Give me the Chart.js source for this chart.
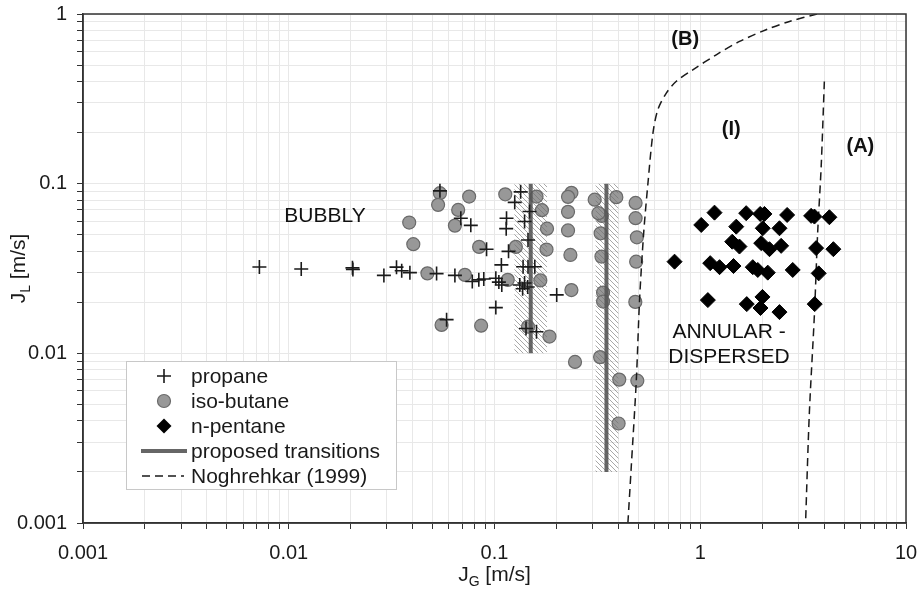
<!DOCTYPE html>
<html>
<head>
<meta charset="utf-8">
<script src="https://cdn.jsdelivr.net/npm/chart.js@4.4.1/dist/chart.umd.min.js"></script>
<style>
  html, body { margin: 0; padding: 0; background: #fff; }
  #wrap { width: 919px; height: 590px; }
</style>
</head>
<body>
<div id="wrap"><canvas id="chart" width="919" height="590"></canvas></div>
<script>
// ---- values (J_G, J_L in m/s) ----
const propaneJG = [0.0072, 0.0115, 0.0204, 0.0205, 0.029, 0.0334, 0.0354, 0.0388, 0.0523, 0.0642,
  0.0543, 0.0585, 0.0686, 0.0767, 0.078, 0.0839, 0.0887, 0.0915, 0.1015, 0.105,
  0.108, 0.1085, 0.1015, 0.1144, 0.114, 0.117, 0.1254, 0.134, 0.148, 0.140,
  0.1455, 0.1377, 0.1455, 0.157, 0.1327, 0.140, 0.145, 0.137, 0.1423, 0.160, 0.2006];
const propaneJL = [0.0323, 0.0314, 0.0319, 0.0312, 0.0288, 0.0322, 0.0307, 0.0299, 0.0295, 0.0288,
  0.0907, 0.0158, 0.0626, 0.0568, 0.0265, 0.0271, 0.0274, 0.0411, 0.0277, 0.0263,
  0.0332, 0.0253, 0.0186, 0.0626, 0.0543, 0.0399, 0.0776, 0.0895, 0.0685, 0.0599,
  0.0466, 0.0324, 0.0324, 0.0324, 0.0253, 0.026, 0.0246, 0.024, 0.014, 0.0134, 0.0221];

const isoButaneJG = [0.0385, 0.0403, 0.0543, 0.0532, 0.0666, 0.0642, 0.0753, 0.0472, 0.0718, 0.0842,
  0.0553, 0.0861, 0.1128, 0.116, 0.127, 0.160, 0.170, 0.180, 0.179, 0.167,
  0.1455, 0.185, 0.2365, 0.2277, 0.2277, 0.2277, 0.2338, 0.2365, 0.2462, 0.3068,
  0.391, 0.332, 0.320, 0.328, 0.331, 0.337, 0.337, 0.326, 0.404, 0.401,
  0.485, 0.485, 0.492, 0.488, 0.4835, 0.4945];
const isoButaneJL = [0.059, 0.044, 0.0879, 0.075, 0.070, 0.0566, 0.0839, 0.0296, 0.029, 0.0424,
  0.0147, 0.01455, 0.0865, 0.0271, 0.0424, 0.0839, 0.0698, 0.0543, 0.0409, 0.0269,
  0.01435, 0.01256, 0.0883, 0.0836, 0.0682, 0.053, 0.038, 0.0236, 0.0089, 0.0805,
  0.0833, 0.0646, 0.067, 0.051, 0.0372, 0.0228, 0.0202, 0.0095, 0.0070, 0.00386,
  0.077, 0.0626, 0.0483, 0.0347, 0.0201, 0.0069];

const pentaneJG = [1.173, 1.672, 1.956, 2.051, 2.644, 3.458, 3.589, 4.243, 1.011, 1.496,
  2.013, 2.427, 1.43, 1.551, 1.978, 2.17, 2.473, 3.657, 4.437, 0.750,
  1.118, 1.241, 1.451, 1.80, 1.904, 2.129, 2.815, 3.764, 1.089, 1.683,
  2.006, 1.962, 2.427, 3.6];
const pentaneJL = [0.0675, 0.067, 0.0663, 0.0663, 0.0654, 0.0646, 0.064, 0.0634, 0.0571, 0.0558,
  0.0546, 0.0546, 0.0455, 0.0426, 0.0446, 0.0411, 0.043, 0.0417, 0.0411, 0.0347,
  0.034, 0.0322, 0.0327, 0.0322, 0.031, 0.0299, 0.031, 0.0296, 0.0206, 0.0195,
  0.0215, 0.0185, 0.0175, 0.0195];

// proposed transitions (vertical lines) and their uncertainty bands
const transJG = [0.15, 0.35];
const transJLlow = [0.01, 0.002];
const transJLhigh = [0.1, 0.1];
const bandJGlow = [0.125, 0.31];
const bandJGhigh = [0.18, 0.40];

// Noghrehkar (1999) boundaries
const nogBJG = [0.445, 0.462, 0.489, 0.507, 0.531, 0.557, 0.589, 0.622, 0.684, 0.763, 0.92, 1.196, 1.552, 2.09, 2.714, 3.7];
const nogBJL = [0.001, 0.00214, 0.00696, 0.0206, 0.0513, 0.1007, 0.1986, 0.2725, 0.342, 0.400, 0.469, 0.575, 0.689, 0.808, 0.904, 1.0];
const nogAJG = [4.01, 3.87, 3.72, 3.59, 3.39, 3.25];
const nogAJL = [0.400, 0.126, 0.0511, 0.0172, 0.00443, 0.001];

// axis ticks
const xTickValues = [0.001, 0.002, 0.003, 0.004, 0.005, 0.006, 0.007, 0.008, 0.009,
  0.01, 0.02, 0.03, 0.04, 0.05, 0.06, 0.07, 0.08, 0.09,
  0.1, 0.2, 0.3, 0.4, 0.5, 0.6, 0.7, 0.8, 0.9,
  1, 2, 3, 4, 5, 6, 7, 8, 9, 10];
const xMajor = [0.001, 0.01, 0.1, 1, 10];
const xTickLabels = ['0.001', '0.01', '0.1', '1', '10'];
const yTickValues = [0.001, 0.002, 0.003, 0.004, 0.005, 0.006, 0.007, 0.008, 0.009,
  0.01, 0.02, 0.03, 0.04, 0.05, 0.06, 0.07, 0.08, 0.09,
  0.1, 0.2, 0.3, 0.4, 0.5, 0.6, 0.7, 0.8, 0.9, 1];
const yMajor = [0.001, 0.01, 0.1, 1];
const yTickLabels = ['0.001', '0.01', '0.1', '1'];

const seriesLabels = ['propane', 'iso-butane', 'n-pentane', 'proposed transitions', 'Noghrehkar (1999)'];

const FONT = '"Liberation Sans", Arial, sans-serif';

function pairs(xs, ys) {
    return xs.map((x, i) => ({ x: x, y: ys[i] }));
}

function bandShape(i) {
    return [
        { x: bandJGlow[i], y: transJLlow[i] },
        { x: bandJGhigh[i], y: transJLlow[i] },
        { x: bandJGhigh[i], y: transJLhigh[i] },
        { x: bandJGlow[i], y: transJLhigh[i] },
        { x: bandJGlow[i], y: transJLlow[i] }
    ];
}

function makeHatch() {
    const c = document.createElement('canvas');
    c.width = 5; c.height = 5;
    const g = c.getContext('2d');
    g.strokeStyle = 'rgba(110,110,110,0.6)';
    g.lineWidth = 1;
    g.beginPath();
    g.moveTo(0, 0); g.lineTo(5, 5);
    g.moveTo(-1, 4); g.lineTo(1, 6);
    g.moveTo(4, -1); g.lineTo(6, 1);
    g.stroke();
    return g.createPattern(c, 'repeat');
}
const hatch = makeHatch();

const datasets = [
    {
        type: 'scatter', label: seriesLabels[0], data: pairs(propaneJG, propaneJL),
        pointStyle: 'cross', pointRadius: 7, borderColor: '#1a1a1a', borderWidth: 1.6, order: 1
    },
    {
        type: 'scatter', label: seriesLabels[2], data: pairs(pentaneJG, pentaneJL),
        pointStyle: 'rectRot', pointRadius: 7.5, backgroundColor: '#000', borderColor: '#000', borderWidth: 1, order: 1
    },
    {
        type: 'line', label: seriesLabels[4], data: pairs(nogBJG, nogBJL),
        borderColor: '#1a1a1a', borderWidth: 1.5, borderDash: [8, 5], pointRadius: 0, tension: 0.3, fill: false, order: 2
    },
    {
        type: 'line', label: seriesLabels[4], data: pairs(nogAJG, nogAJL),
        borderColor: '#1a1a1a', borderWidth: 1.5, borderDash: [8, 5], pointRadius: 0, tension: 0.3, fill: false, order: 2
    },
    {
        type: 'line', label: seriesLabels[3], data: [{ x: transJG[0], y: transJLlow[0] }, { x: transJG[0], y: transJLhigh[0] }],
        borderColor: 'rgba(85,85,85,0.9)', borderWidth: 4, pointRadius: 0, fill: false, order: 3
    },
    {
        type: 'line', label: seriesLabels[3], data: [{ x: transJG[1], y: transJLlow[1] }, { x: transJG[1], y: transJLhigh[1] }],
        borderColor: 'rgba(85,85,85,0.9)', borderWidth: 4, pointRadius: 0, fill: false, order: 3
    },
    {
        type: 'line', label: 'band', data: bandShape(0),
        borderWidth: 0, borderColor: 'rgba(0,0,0,0)', backgroundColor: hatch, pointRadius: 0, fill: 'shape', order: 4
    },
    {
        type: 'line', label: 'band', data: bandShape(1),
        borderWidth: 0, borderColor: 'rgba(0,0,0,0)', backgroundColor: hatch, pointRadius: 0, fill: 'shape', order: 4
    },
    {
        type: 'scatter', label: seriesLabels[1], data: pairs(isoButaneJG, isoButaneJL),
        pointStyle: 'circle', pointRadius: 6.5, backgroundColor: '#989898', borderColor: '#6a6a6a', borderWidth: 1.2, order: 5
    }
];

function subTitle(ctx, main, sub, rest, cx, cy) {
    const big = '21px ' + FONT;
    const small = '14px ' + FONT;
    ctx.font = big;
    const w1 = ctx.measureText(main).width;
    const w3 = ctx.measureText(rest).width;
    ctx.font = small;
    const w2 = ctx.measureText(sub).width;
    let x = cx - (w1 + w2 + w3) / 2;
    ctx.textAlign = 'left';
    ctx.textBaseline = 'alphabetic';
    ctx.font = big; ctx.fillText(main, x, cy + 7); x += w1;
    ctx.font = small; ctx.fillText(sub, x, cy + 12); x += w2;
    ctx.font = big; ctx.fillText(rest, x, cy + 7);
}

const overlay = {
    id: 'overlay',
    afterDraw(chart) {
        const ctx = chart.ctx;
        const a = chart.chartArea;
        const xs = chart.scales.x, ys = chart.scales.y;
        ctx.save();

        // frame
        ctx.strokeStyle = '#333';
        ctx.lineWidth = 1.5;
        ctx.strokeRect(a.left, a.top, a.right - a.left, a.bottom - a.top);

        // region labels
        ctx.fillStyle = '#111';
        ctx.textAlign = 'center';
        ctx.textBaseline = 'middle';
        ctx.font = '21px ' + FONT;
        ctx.fillText('BUBBLY', xs.getPixelForValue(0.015), ys.getPixelForValue(0.0646));
        ctx.fillText('ANNULAR -', xs.getPixelForValue(1.38), ys.getPixelForValue(0.0134));
        ctx.fillText('DISPERSED', xs.getPixelForValue(1.38), ys.getPixelForValue(0.00947));
        ctx.font = 'bold 20px ' + FONT;
        ctx.fillText('(B)', xs.getPixelForValue(0.845), ys.getPixelForValue(0.712));
        ctx.fillText('(I)', xs.getPixelForValue(1.414), ys.getPixelForValue(0.2077));
        ctx.fillText('(A)', xs.getPixelForValue(6.0), ys.getPixelForValue(0.165));

        // axis titles
        ctx.fillStyle = '#1a1a1a';
        subTitle(ctx, 'J', 'G', ' [m/s]', (a.left + a.right) / 2, 574);
        ctx.save();
        ctx.translate(18, (a.top + a.bottom) / 2);
        ctx.rotate(-Math.PI / 2);
        subTitle(ctx, 'J', 'L', ' [m/s]', 0, 0);
        ctx.restore();

        // legend
        const lx = 126, ly = 361, lw = 270, lh = 128;
        ctx.fillStyle = '#fff';
        ctx.fillRect(lx, ly, lw, lh);
        ctx.strokeStyle = '#c8c8c8';
        ctx.lineWidth = 1;
        ctx.strokeRect(lx + 0.5, ly + 0.5, lw, lh);
        const rows = [376, 401, 426, 451, 476];
        const sx = 164;
        // cross
        ctx.strokeStyle = '#1a1a1a'; ctx.lineWidth = 1.6;
        ctx.beginPath();
        ctx.moveTo(sx - 7, rows[0]); ctx.lineTo(sx + 7, rows[0]);
        ctx.moveTo(sx, rows[0] - 7); ctx.lineTo(sx, rows[0] + 7);
        ctx.stroke();
        // circle
        ctx.fillStyle = '#989898'; ctx.strokeStyle = '#6a6a6a'; ctx.lineWidth = 1.2;
        ctx.beginPath(); ctx.arc(sx, rows[1], 6.5, 0, Math.PI * 2); ctx.fill(); ctx.stroke();
        // diamond
        ctx.fillStyle = '#000';
        ctx.beginPath();
        ctx.moveTo(sx, rows[2] - 7.5); ctx.lineTo(sx + 7.5, rows[2]);
        ctx.lineTo(sx, rows[2] + 7.5); ctx.lineTo(sx - 7.5, rows[2]);
        ctx.closePath(); ctx.fill();
        // thick line
        ctx.strokeStyle = 'rgba(85,85,85,0.9)'; ctx.lineWidth = 4;
        ctx.beginPath(); ctx.moveTo(141, rows[3]); ctx.lineTo(187, rows[3]); ctx.stroke();
        // dashed line
        ctx.strokeStyle = '#1a1a1a'; ctx.lineWidth = 1.5; ctx.setLineDash([8, 5]);
        ctx.beginPath(); ctx.moveTo(142, rows[4]); ctx.lineTo(184, rows[4]); ctx.stroke();
        ctx.setLineDash([]);
        // texts
        ctx.fillStyle = '#1a1a1a';
        ctx.font = '21px ' + FONT;
        ctx.textAlign = 'left';
        ctx.textBaseline = 'middle';
        seriesLabels.forEach((t, i) => ctx.fillText(t, 191, rows[i] + 1));

        ctx.restore();
    }
};

const tickFont = { family: FONT, size: 20 };

new Chart(document.getElementById('chart').getContext('2d'), {
    type: 'scatter',
    data: { datasets: datasets },
    options: {
        responsive: false,
        animation: false,
        devicePixelRatio: 1,
        events: [],
        layout: { padding: { top: 14, right: 13, left: 0, bottom: 0 } },
        plugins: {
            legend: { display: false },
            tooltip: { enabled: false }
        },
        scales: {
            x: {
                type: 'logarithmic',
                min: 0.001,
                max: 10,
                afterBuildTicks: function(scale) {
                    scale.ticks = xTickValues.map(v => ({ value: v }));
                },
                afterFit: function(scale) {
                    scale.height = 67;
                    scale.paddingLeft = 0;
                    scale.paddingRight = 0;
                },
                ticks: {
                    autoSkip: false,
                    maxRotation: 0,
                    padding: 12,
                    color: '#1a1a1a',
                    font: tickFont,
                    callback: function(value) {
                        const k = xMajor.indexOf(value);
                        return k >= 0 ? xTickLabels[k] : '';
                    }
                },
                grid: { color: '#e8e8e8', lineWidth: 1, tickColor: '#333', tickLength: 6 },
                border: { display: true, color: '#333', width: 1.5 }
            },
            y: {
                type: 'logarithmic',
                min: 0.001,
                max: 1,
                afterBuildTicks: function(scale) {
                    scale.ticks = yTickValues.map(v => ({ value: v }));
                },
                afterFit: function(scale) {
                    scale.width = 83;
                    scale.paddingTop = 0;
                    scale.paddingBottom = 0;
                },
                ticks: {
                    autoSkip: false,
                    padding: 10,
                    color: '#1a1a1a',
                    font: tickFont,
                    callback: function(value) {
                        const k = yMajor.indexOf(value);
                        return k >= 0 ? yTickLabels[k] : '';
                    }
                },
                grid: { color: '#e8e8e8', lineWidth: 1, tickColor: '#333', tickLength: 6 },
                border: { display: true, color: '#333', width: 1.5 }
            }
        }
    },
    plugins: [overlay]
});
</script>
</body>
</html>
